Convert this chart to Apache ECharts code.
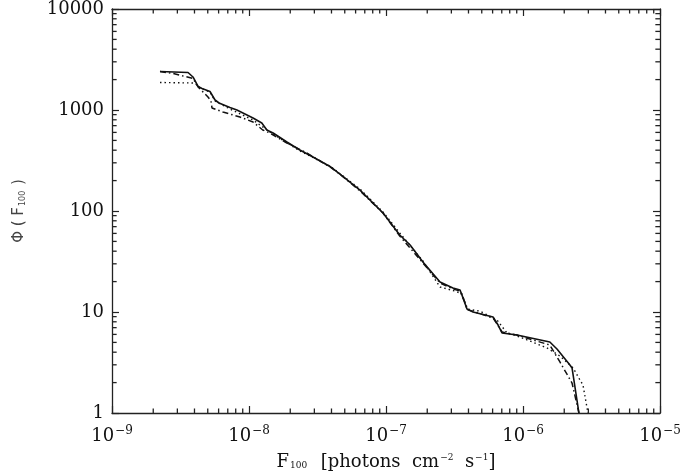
<!DOCTYPE html>
<html>
<head>
<meta charset="utf-8">
<script src="https://cdn.jsdelivr.net/npm/echarts@6/dist/echarts.min.js"></script>
<style>
  html, body { margin: 0; padding: 0; background: #fff; }
  #chart { width: 681px; height: 475px; }
</style>
</head>
<body>
<div id="chart"></div>
<script>
// Limites des axes (log)
const xMin = 1e-9, xMax = 1e-5;
const yMin = 1, yMax = 10000;

// Courbe pleine
const solidX = [2.24e-9, 3.59e-9, 3.90e-9, 4.25e-9, 4.54e-9, 5.19e-9, 5.65e-9, 6.04e-9, 7.26e-9, 8.16e-9,
  9.03e-9, 1.07e-8, 1.24e-8, 1.35e-8, 1.50e-8, 1.89e-8, 2.35e-8, 2.93e-8, 3.90e-8, 4.61e-8,
  6.46e-8, 9.51e-8, 1.26e-7, 1.50e-7, 1.86e-7, 2.48e-7, 3.08e-7, 3.47e-7, 3.65e-7, 3.90e-7,
  4.32e-7, 6.04e-7, 6.58e-7, 7.03e-7, 9.03e-7, 1.57e-6, 1.77e-6, 2.20e-6, 2.28e-6, 2.56e-6];
const solidY = [2405, 2351, 2123, 1709, 1633, 1524, 1256, 1173, 1059, 1000,
  934, 833, 743, 634, 592, 482, 402, 343, 276, 232,
  161, 95.5, 57.9, 46.1, 31.3, 19.8, 17.3, 16.5, 13.8, 10.7,
  10.0, 8.92, 7.43, 6.20, 5.92, 5.05, 4.30, 2.99, 2.79, 1.0];

// Courbe tiret-point
const dashX = [2.24e-9, 2.79e-9, 3.90e-9, 4.25e-9, 5.02e-9, 5.28e-9, 5.37e-9, 6.45e-9, 8.59e-9, 1.07e-8,
  1.26e-8, 1.42e-8, 1.89e-8, 2.65e-8, 3.90e-8, 4.61e-8, 6.46e-8, 9.51e-8, 1.26e-7, 1.86e-7,
  2.48e-7, 3.08e-7, 3.47e-7, 3.71e-7, 3.97e-7, 4.47e-7, 6.04e-7, 6.46e-7, 7.03e-7, 9.03e-7,
  1.57e-6, 1.86e-6, 2.28e-6, 2.56e-6];
const dashY = [2405, 2298, 2051, 1690, 1345, 1228, 1047, 955, 853, 760,
  634, 592, 471, 375, 273, 232, 158, 95.5, 56.6, 30.6,
  19.4, 16.9, 16.1, 13.1, 10.5, 10.0, 8.72, 7.61, 6.34, 5.92,
  4.71, 3.20, 1.98, 1.0];

// Courbe pointillée
const dotX = [2.24e-9, 4.04e-9, 4.39e-9, 5.19e-9, 5.65e-9, 7.26e-9, 1.07e-8, 1.42e-8, 2.35e-8, 3.90e-8,
  6.46e-8, 9.51e-8, 1.26e-7, 1.86e-7, 2.48e-7, 3.19e-7, 3.59e-7, 3.90e-7, 4.85e-7, 6.46e-7,
  7.64e-7, 9.51e-7, 1.50e-6, 1.86e-6, 2.32e-6, 2.74e-6, 2.98e-6];
const dotY = [1872, 1850, 1651, 1508, 1228, 1023, 796, 606, 393, 279,
  165, 97.7, 60.6, 32.0, 17.7, 16.1, 15.1, 10.7, 10.2, 8.33,
  6.20, 5.65, 4.40, 3.67, 2.79, 1.89, 1.0];

const pairs = (xs, ys) => xs.map((x, i) => [x, ys[i]]);

// Graduations mineures (2..9 x 10^k)
const xMinorTicks = [];
for (let e = -9; e < -5; e++) {
  for (let m = 2; m <= 9; m++) xMinorTicks.push(m * Math.pow(10, e));
}
const yMinorTicks = [];
for (let e = 0; e < 4; e++) {
  for (let m = 2; m <= 9; m++) yMinorTicks.push(m * Math.pow(10, e));
}

const serif = 'DejaVu Serif';
const axisColor = '#222';

function expLabel(v) {
  const e = Math.round(Math.log10(v));
  return '{b|10}{s|' + (e < 0 ? '\u2212' + (-e) : e) + '}';
}

// Petits segments de graduation, longueur = fraction de l'étendue (en décades)
const tickFracX = 0.0085 * 4;  // décades en x
const tickFracY = 0.0112 * 4;  // décades en y
const tickSeries = [];
function addTick(a, b) {
  tickSeries.push({
    type: 'line', data: [a, b], showSymbol: false, silent: true, z: 5, clip: false,
    lineStyle: { color: axisColor, width: 1.3, type: 'solid' }
  });
}
xMinorTicks.forEach(v => {
  addTick([v, yMin], [v, yMin * Math.pow(10, tickFracY)]);
  addTick([v, yMax], [v, yMax / Math.pow(10, tickFracY)]);
});
yMinorTicks.forEach(v => {
  addTick([xMin, v], [xMin * Math.pow(10, tickFracX), v]);
  addTick([xMax, v], [xMax / Math.pow(10, tickFracX), v]);
});

const baseAxis = {
  type: 'log',
  logBase: 10,
  axisLine: { show: true, onZero: false, lineStyle: { color: axisColor, width: 1.3 } },
  axisTick: { show: true, inside: true, length: 7, lineStyle: { color: axisColor, width: 1.2 } },
  splitLine: { show: false },
  minorTick: { show: false },
  minorSplitLine: { show: false }
};

const chart = echarts.init(document.getElementById('chart'));
chart.setOption({
  animation: false,
  backgroundColor: '#fff',
  grid: { left: 112, right: 21, top: 9, bottom: 62, outerBoundsMode: 'none', containLabel: false },
  xAxis: [
    Object.assign({}, baseAxis, {
      position: 'bottom', min: xMin, max: xMax,
      axisLabel: {
        margin: 12, formatter: expLabel,
        rich: {
          b: { fontFamily: serif, fontSize: 18, color: '#111', verticalAlign: 'bottom' },
          s: { fontFamily: serif, fontSize: 12, color: '#111', verticalAlign: 'bottom', padding: [0, 0, 8, 1] }
        }
      },
      name: '{b|F}{sub|100}{b|  [photons  cm}{sup|\u22122}{b|  s}{sup|\u22121}{b|]}',
      nameLocation: 'middle', nameGap: 40,
      nameTextStyle: {
        rich: {
          b: { fontFamily: serif, fontSize: 18, color: '#111', verticalAlign: 'bottom' },
          sub: { fontFamily: serif, fontSize: 9, color: '#111', verticalAlign: 'bottom', padding: [0, 2, 1, 1] },
          sup: { fontFamily: serif, fontSize: 9, color: '#111', verticalAlign: 'bottom', padding: [0, 0, 9, 1] }
        }
      }
    }),
    Object.assign({}, baseAxis, {
      position: 'top', min: xMin, max: xMax, axisLabel: { show: false }
    })
  ],
  yAxis: [
    Object.assign({}, baseAxis, {
      position: 'left', min: yMin, max: yMax,
      axisLabel: {
        margin: 8, fontFamily: serif, fontSize: 18, color: '#111',
        formatter: v => String(Math.round(v))
      },
      name: '{n|\u03A6 ( F}{sub|100}{n| )}',
      nameLocation: 'middle', nameGap: 85, nameRotate: 90,
      nameTextStyle: {
        rich: {
          n: { fontFamily: 'DejaVu Sans', fontSize: 15, color: '#444', verticalAlign: 'bottom' },
          sub: { fontFamily: 'DejaVu Sans', fontSize: 8, color: '#444', verticalAlign: 'bottom', padding: [0, 1, 0, 1] }
        }
      }
    }),
    Object.assign({}, baseAxis, {
      position: 'right', min: yMin, max: yMax, axisLabel: { show: false }
    })
  ],
  series: [
    {
      name: 'solid', type: 'line', data: pairs(solidX, solidY),
      showSymbol: false, lineStyle: { color: '#111', width: 1.6, type: 'solid' }
    },
    {
      name: 'dashdot', type: 'line', data: pairs(dashX, dashY),
      showSymbol: false, lineStyle: { color: '#111', width: 1.5, type: [6, 3, 1.5, 3] }
    },
    {
      name: 'dotted', type: 'line', data: pairs(dotX, dotY),
      showSymbol: false, lineStyle: { color: '#111', width: 1.4, type: [1.5, 3] }
    }
  ].concat(tickSeries)
});
</script>
</body>
</html>
